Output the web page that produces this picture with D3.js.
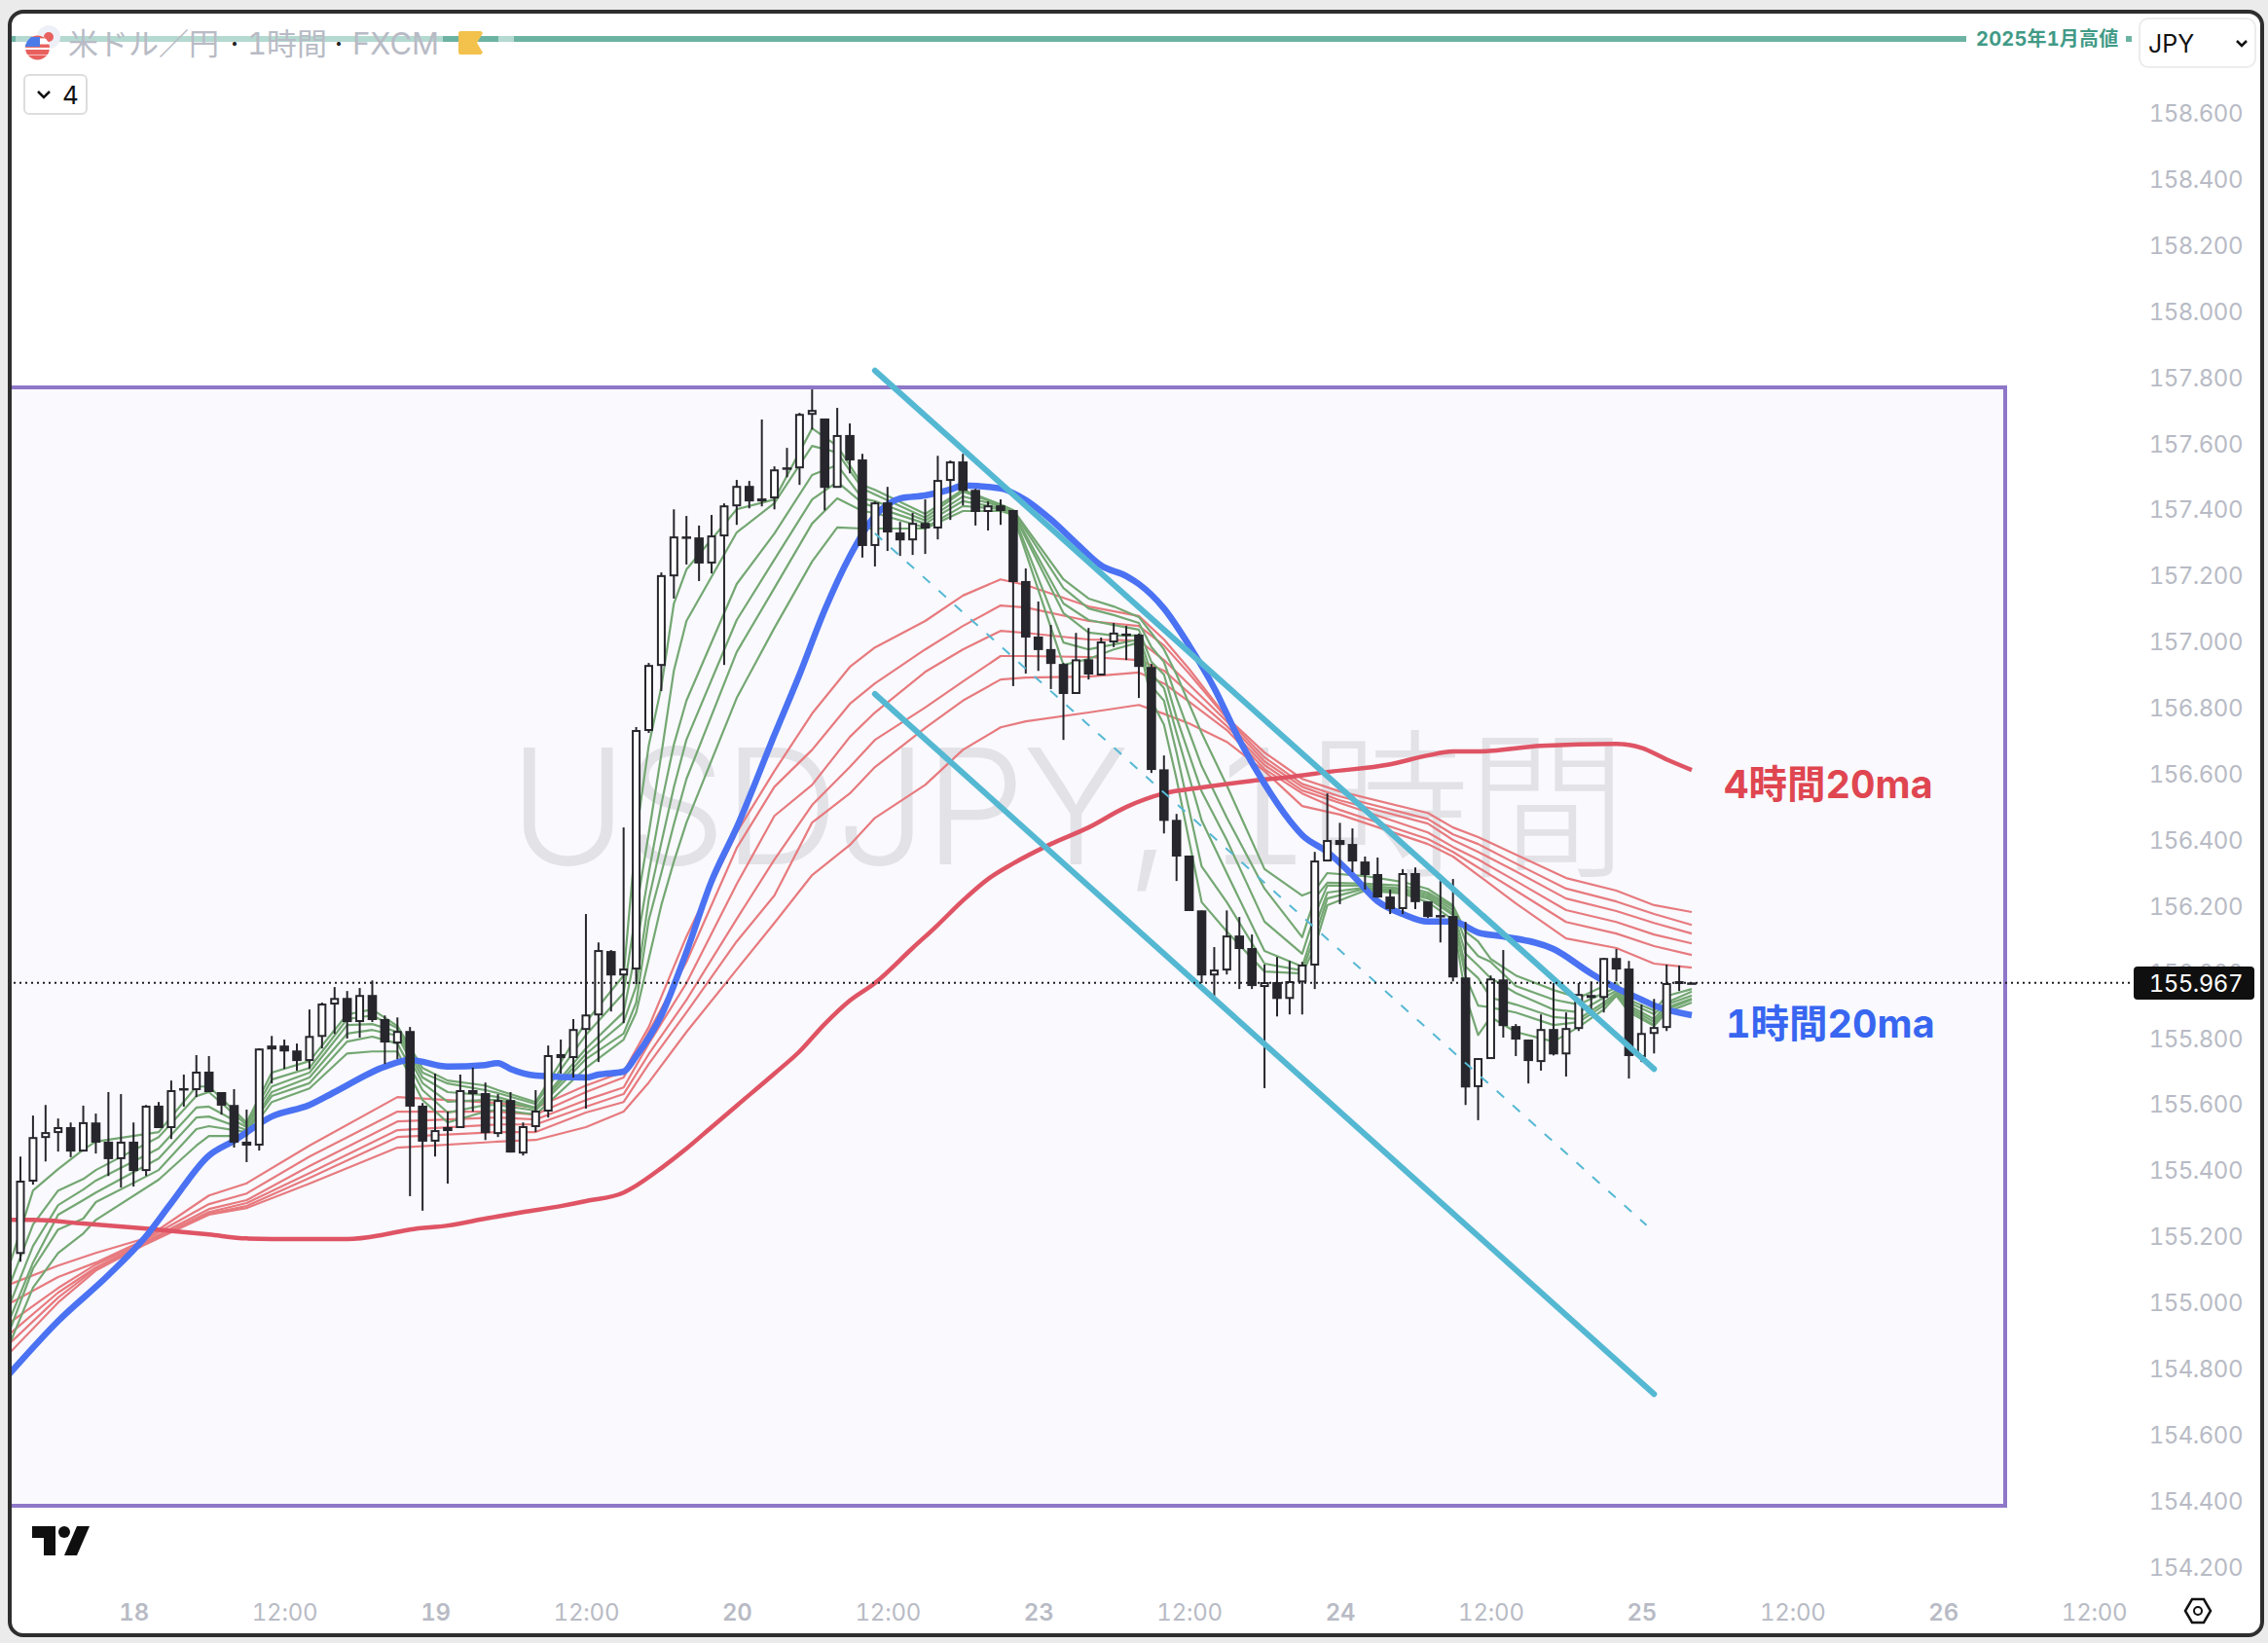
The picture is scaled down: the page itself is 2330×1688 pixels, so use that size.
<!DOCTYPE html>
<html><head><meta charset="utf-8">
<style>
html,body{margin:0;padding:0;background:#ebebeb}
svg{display:block}
text{font-family:Inter,"Noto Sans CJK JP",sans-serif;font-variant-numeric:tabular-nums}
</style>
<script src="https://cdn.jsdelivr.net/npm/d3@7/dist/d3.min.js"></script>
</head><body><svg id="c" width="2330" height="1688"></svg>
<script>
const opens=[155.149,155.368,155.500,155.515,155.530,155.459,155.544,155.486,155.436,155.486,
155.400,155.595,155.530,155.648,155.645,155.698,155.636,155.597,155.486,155.477,
155.777,155.777,155.762,155.733,155.806,155.904,155.921,155.851,155.930,155.857,
155.786,155.821,155.595,155.489,155.530,155.530,155.642,155.633,155.512,155.612,
155.453,155.533,155.580,155.742,155.742,155.827,155.871,156.063,155.992,156.010,
156.732,156.929,157.200,157.318,157.315,157.239,157.321,157.412,157.471,157.433,
157.436,157.527,157.527,157.689,157.675,157.468,157.625,157.551,157.292,157.421,
157.330,157.309,157.359,157.345,157.489,157.545,157.459,157.395,157.412,157.398,
157.183,157.015,156.977,156.932,156.844,156.946,156.900,157.000,157.024,157.021,
156.923,156.613,156.460,156.352,156.186,155.992,156.007,156.110,156.072,155.957,
155.969,155.921,155.971,156.022,156.337,156.399,156.387,156.334,156.296,156.228,
156.193,156.299,156.213,156.172,156.169,155.983,155.654,155.739,155.977,155.836,
155.795,155.730,155.827,155.753,155.830,155.930,155.924,156.042,156.010,155.745,
155.815,155.833,155.966,155.968];
const closes=[155.365,155.497,155.512,155.527,155.456,155.542,155.483,155.433,155.483,155.397,
155.592,155.527,155.639,155.642,155.695,155.636,155.595,155.483,155.474,155.765,
155.765,155.759,155.730,155.803,155.901,155.918,155.848,155.927,155.854,155.786,
155.818,155.592,155.486,155.518,155.518,155.639,155.630,155.512,155.609,155.453,
155.530,155.577,155.745,155.748,155.824,155.868,156.063,155.989,156.007,156.729,
156.926,157.198,157.315,157.315,157.236,157.318,157.409,157.468,157.424,157.424,
157.518,157.521,157.686,157.698,157.465,157.622,157.548,157.289,157.418,157.330,
157.306,157.356,157.342,157.486,157.542,157.456,157.392,157.409,157.395,157.180,
157.012,156.974,156.932,156.841,156.943,156.900,156.997,157.024,157.021,156.923,
156.611,156.457,156.349,156.184,155.989,156.004,156.107,156.069,155.957,155.966,
155.918,155.969,156.019,156.334,156.396,156.384,156.334,156.293,156.225,156.190,
156.296,156.211,156.166,156.166,155.983,155.650,155.736,155.977,155.836,155.795,
155.730,155.824,155.750,155.827,155.930,155.921,156.039,156.007,155.745,155.812,
155.830,155.963,155.969,155.967];
const highs=[155.441,155.565,155.597,155.556,155.544,155.595,155.571,155.636,155.630,155.544,
155.597,155.606,155.671,155.689,155.748,155.745,155.636,155.645,155.583,155.768,
155.806,155.795,155.783,155.886,155.907,155.954,155.942,155.951,155.974,155.868,
155.862,155.833,155.603,155.692,155.577,155.689,155.710,155.665,155.630,155.636,
155.544,155.642,155.777,155.795,155.857,156.175,156.089,156.066,156.437,156.741,
156.935,157.209,157.400,157.380,157.351,157.383,157.418,157.489,157.486,157.672,
157.530,157.586,157.692,157.763,157.675,157.707,157.660,157.568,157.424,157.468,
157.362,157.389,157.430,157.562,157.548,157.568,157.462,157.424,157.430,157.398,
157.221,157.121,157.050,156.935,157.026,157.041,157.012,157.056,157.047,157.024,
156.932,156.655,156.478,156.352,156.186,156.075,156.186,156.166,156.113,156.022,
156.045,156.033,156.030,156.363,156.540,156.451,156.434,156.349,156.346,156.249,
156.311,156.316,156.213,156.275,156.281,156.151,155.739,155.989,156.066,155.842,
155.795,155.871,155.966,155.877,155.966,155.971,156.042,156.069,156.033,155.901,
155.918,156.022,156.019,155.967];
const lows=[155.123,155.356,155.426,155.456,155.439,155.456,155.450,155.382,155.347,155.350,
155.382,155.527,155.494,155.592,155.621,155.636,155.568,155.468,155.424,155.459,
155.662,155.706,155.701,155.706,155.768,155.812,155.798,155.801,155.848,155.721,
155.736,155.321,155.277,155.441,155.359,155.530,155.577,155.491,155.500,155.453,
155.444,155.515,155.559,155.692,155.680,155.586,155.727,155.880,155.845,155.963,
156.723,156.850,157.130,157.233,157.183,157.206,156.929,157.353,157.403,157.409,
157.400,157.497,157.474,157.642,157.397,157.468,157.509,157.254,157.227,157.274,
157.259,157.262,157.265,157.309,157.368,157.412,157.351,157.336,157.353,156.865,
156.903,156.911,156.856,156.702,156.844,156.885,156.900,156.983,156.944,156.829,
156.602,156.419,156.275,156.184,155.966,155.927,155.992,155.948,155.948,155.648,
155.865,155.871,155.871,155.948,156.337,156.205,156.302,156.249,156.225,156.175,
156.175,156.190,156.163,156.089,155.971,155.597,155.551,155.739,155.801,155.745,
155.662,155.701,155.747,155.683,155.821,155.868,155.877,155.971,155.677,155.727,
155.753,155.821,155.942,155.967];

const redBars=[-1,3,6,10,15,18,23,30,38,41,45,48,50,53,57,60,63,66,68,72,75,78,80,85,89,91,93,96,99,102,105,112,114,116,119,123,127,130,133];
const redA=[155.052,155.111,155.149,155.194,155.323,155.360,155.474,155.621,155.603,155.589,155.656,155.697,155.833,156.107,156.422,156.608,156.782,156.923,156.982,157.062,157.139,157.188,157.171,157.106,157.077,157.006,156.917,156.770,156.664,156.584,156.546,156.481,156.437,156.408,156.355,156.284,156.246,156.202,156.181];
const redB=[154.993,155.076,155.120,155.191,155.297,155.329,155.441,155.577,155.577,155.568,155.636,155.680,155.818,156.030,156.375,156.560,156.672,156.811,156.873,156.976,157.047,157.109,157.103,157.062,157.047,156.988,156.903,156.767,156.649,156.569,156.531,156.463,156.416,156.387,156.328,156.252,156.213,156.175,156.142];
const redC=[154.934,155.043,155.114,155.185,155.282,155.309,155.412,155.547,155.559,155.553,155.612,155.650,155.783,155.966,156.266,156.472,156.566,156.711,156.785,156.908,156.976,157.032,157.026,157.006,157.003,156.944,156.870,156.758,156.637,156.560,156.519,156.449,156.399,156.363,156.304,156.222,156.184,156.148,156.116];
const redD=[154.899,155.029,155.105,155.182,155.273,155.300,155.391,155.521,155.538,155.538,155.592,155.630,155.751,155.915,156.160,156.340,156.505,156.620,156.702,156.800,156.879,156.956,156.956,156.953,156.944,156.912,156.844,156.744,156.626,156.549,156.511,156.422,156.378,156.340,156.275,156.187,156.151,156.113,156.086];
const redE=[154.870,155.014,155.102,155.179,155.268,155.291,155.376,155.500,155.515,155.515,155.574,155.606,155.721,155.877,156.092,156.231,156.452,156.540,156.620,156.738,156.821,156.885,156.891,156.894,156.906,156.873,156.818,156.732,156.614,156.540,156.490,156.402,156.363,156.316,156.246,156.151,156.116,156.078,156.051];
const redF=[154.841,154.999,155.096,155.176,155.265,155.285,155.359,155.468,155.486,155.491,155.530,155.577,155.665,155.818,156.007,156.148,156.293,156.384,156.466,156.566,156.672,156.740,156.758,156.785,156.808,156.781,156.752,156.696,156.608,156.502,156.476,156.387,156.349,156.293,156.207,156.101,156.072,156.025,156.013];

const greenBars=[-1,1,3,5,6,11,14,15,18,20,23,26,28,30,32,34,37,38,41,45,48,49,50,51,52,53,57,60,63,65,67,68,72,75,78,79,83,85,87,89,90,91,92,94,96,99,102,103,104,107,110,112,114,115,116,117,119,122,124,126,127,128,130,131,133];
const greenA=[155.096,155.338,155.403,155.462,155.486,155.515,155.653,155.653,155.544,155.695,155.730,155.871,155.886,155.836,155.709,155.671,155.656,155.642,155.606,155.848,155.989,156.416,156.685,156.862,157.115,157.218,157.400,157.430,157.645,157.592,157.474,157.459,157.386,157.459,157.415,157.398,157.188,157.130,157.106,157.074,157.026,156.976,156.900,156.723,156.564,156.311,156.231,156.246,156.299,156.290,156.272,156.251,156.201,156.122,156.092,156.039,155.989,155.945,155.921,155.957,155.966,155.915,155.883,155.927,155.948];
const greenB=[155.038,155.235,155.338,155.373,155.400,155.500,155.624,155.636,155.536,155.674,155.709,155.857,155.868,155.830,155.695,155.662,155.642,155.633,155.600,155.809,155.936,156.187,156.419,156.658,156.912,157.062,157.330,157.419,157.592,157.572,157.463,157.445,157.375,157.454,157.413,157.395,157.162,157.100,157.080,157.056,156.983,156.938,156.829,156.623,156.467,156.252,156.105,156.222,156.270,156.267,156.261,156.240,156.196,156.092,156.048,156.030,155.957,155.916,155.901,155.936,155.951,155.907,155.872,155.907,155.940];
const greenC=[154.979,155.170,155.294,155.341,155.368,155.465,155.589,155.592,155.530,155.653,155.695,155.839,155.842,155.818,155.680,155.636,155.627,155.621,155.589,155.768,155.878,156.069,156.299,156.507,156.688,156.821,157.174,157.327,157.504,157.534,157.433,157.425,157.366,157.439,157.410,157.392,157.115,157.065,157.050,157.036,156.938,156.900,156.770,156.546,156.399,156.152,156.055,156.172,156.261,156.261,156.252,156.234,156.187,156.055,156.019,155.981,155.936,155.886,155.878,155.922,155.943,155.898,155.857,155.901,155.928];
const greenD=[154.934,155.120,155.265,155.309,155.332,155.435,155.559,155.562,155.521,155.636,155.680,155.813,155.824,155.807,155.663,155.607,155.612,155.612,155.586,155.751,155.848,155.957,156.219,156.390,156.559,156.703,157.065,157.248,157.430,157.483,157.419,157.407,157.357,157.425,157.404,157.389,157.086,157.027,157.018,157.018,156.903,156.859,156.723,156.458,156.299,156.063,156.016,156.134,156.240,156.255,156.246,156.228,156.178,156.016,155.981,155.922,155.901,155.863,155.857,155.907,155.936,155.892,155.848,155.892,155.919];
const greenE=[154.899,155.102,155.220,155.253,155.303,155.400,155.524,155.533,155.515,155.624,155.663,155.789,155.804,155.783,155.642,155.574,155.597,155.597,155.580,155.736,155.813,155.907,156.157,156.299,156.447,156.584,156.968,157.162,157.357,157.433,157.395,157.389,157.345,157.410,157.401,157.386,156.997,156.976,156.991,157.006,156.865,156.821,156.664,156.319,156.211,156.025,156.004,156.105,156.222,156.252,156.240,156.222,156.172,155.986,155.898,155.892,155.877,155.839,155.848,155.898,155.930,155.886,155.839,155.886,155.916];
const greenF=[154.861,155.044,155.149,155.208,155.249,155.371,155.474,155.503,155.503,155.606,155.647,155.753,155.759,155.759,155.612,155.544,155.577,155.583,155.568,155.709,155.795,155.877,156.039,156.202,156.334,156.452,156.829,157.041,157.242,157.345,157.342,157.342,157.342,157.395,157.395,157.383,156.929,156.947,156.976,156.997,156.821,156.748,156.584,156.211,156.122,156.001,155.995,156.075,156.202,156.246,156.237,156.211,156.158,155.928,155.809,155.863,155.818,155.789,155.833,155.886,155.928,155.878,155.836,155.878,155.907];

const ma1hBars=[-1,3,7,10,12,15,17,20,23,25,29,31,34,37,38,39,41,45,46,48,49,51,53,55,57,60,62,64,66,68,70,72,74,75,78,80,82,84,86,88,89,91,93,95,97,99,101,102,104,106,108,110,112,114,116,118,122,125,127,129,130,133];
const ma1hValues=[154.778,154.943,155.082,155.200,155.300,155.444,155.489,155.562,155.597,155.636,155.713,155.733,155.713,155.718,155.724,155.706,155.686,155.680,155.689,155.698,155.745,155.868,156.060,156.275,156.437,156.717,156.900,157.095,157.258,157.380,157.433,157.442,157.460,157.472,157.463,157.428,157.369,157.298,157.230,157.198,157.174,157.100,156.988,156.859,156.702,156.569,156.458,156.414,156.363,156.293,156.214,156.175,156.152,156.152,156.119,156.107,156.069,155.995,155.951,155.916,155.898,155.869];
const ma4hBars=[-1,1,5,10,15,18,22,26,29,31,34,37,40,43,45,48,49,51,53,55,57,60,62,64,66,68,71,73,75,77,79,82,85,88,91,94,98,101,104,109,112,114,116,121,127,129,131,133];
const ma4hValues=[155.249,155.249,155.238,155.223,155.205,155.193,155.191,155.191,155.205,155.220,155.232,155.253,155.273,155.291,155.306,155.332,155.353,155.406,155.465,155.530,155.595,155.692,155.759,155.842,155.913,155.966,156.072,156.142,156.216,156.281,156.328,156.387,156.437,156.499,156.540,156.558,156.578,156.590,156.605,156.628,156.655,156.667,156.667,156.684,156.690,156.678,156.643,156.611];

const channelUpper=[[68,157.820],[130,155.706]];
const channelLower=[[68,156.841],[130,154.722]];
const channelMid=[[68,157.327],[129.4,155.233]];

const priceTicks=[158.6,158.4,158.2,158.0,157.8,157.6,157.4,157.2,157.0,156.8,156.6,156.4,156.2,156.0,155.8,155.6,155.4,155.2,155.0,154.8,154.6,154.4,154.2];
const timeTickBars=[9,21,33,45,57,69,81,93,105,117,129,141,153,165];
const timeTickLabels=["18","12:00","19","12:00","20","12:00","23","12:00","24","12:00","25","12:00","26","12:00"];
const lastPrice=155.967;

const svg=d3.select("#c");
const x=d3.scaleLinear().domain([0,133]).range([21,1738]);
const y=d3.scaleLinear().domain([158.6,154.2]).range([116,1609.4]);
const INK="#26262c",MUTED="#b8bbc5",PLOT="#f9f9fe";

svg.append("rect").attr("x",10).attr("y",12).attr("width",2314).attr("height",1668).attr("rx",14)
  .attr("fill","#fff").attr("stroke","#2e2e2e").attr("stroke-width",4);
const defs=svg.append("defs");
defs.append("clipPath").attr("id","plot").append("rect").attr("x",12).attr("y",14).attr("width",2048).attr("height",1660);

svg.append("rect").attr("x",12).attr("y",398).attr("width",2048).attr("height",1149).attr("fill",PLOT);
svg.append("text").attr("x",1096).attr("y",888).attr("text-anchor","middle")
  .attr("font-size",165).attr("font-weight",300).attr("letter-spacing",-2.8).attr("fill","#e2e2e7").text("USDJPY, 1時間");
svg.append("path").attr("d","M12 398H2060V1547H12").attr("fill","none").attr("stroke","#8e77c8").attr("stroke-width",4);

const g=svg.append("g").attr("clip-path","url(#plot)");
function drawLine(bars,vals,color,w,curve){
  const pts=bars.map((b,i)=>[b,vals[i]]);
  g.append("path").datum(pts).attr("fill","none").attr("stroke",color).attr("stroke-width",w)
   .attr("stroke-linejoin","round").attr("d",d3.line().curve(curve||d3.curveLinear).x(d=>x(d[0])).y(d=>y(d[1])));
}
[redA,redB,redC,redD,redE,redF].forEach(v=>drawLine(redBars,v,"#e77a7e",2.2));
[greenA,greenB,greenC,greenD,greenE,greenF].forEach(v=>drawLine(greenBars,v,"#74a772",2.2));
drawLine(ma4hBars,ma4hValues,"#df5464",4.5,d3.curveMonotoneX);
drawLine(ma1hBars,ma1hValues,"#4a72f2",6.5,d3.curveMonotoneX);

const candles=opens.map((o,i)=>({i,o,h:highs[i],l:lows[i],c:closes[i]}));
const cg=g.selectAll("g.c").data(candles).join("g");
cg.append("line").attr("x1",d=>x(d.i)).attr("x2",d=>x(d.i)).attr("y1",d=>y(d.h)).attr("y2",d=>y(d.l))
  .attr("stroke",INK).attr("stroke-width",2);
cg.append("rect").attr("x",d=>x(d.i)-(d.c>=d.o?3.5:4.8)).attr("width",d=>d.c>=d.o?7:9.6)
  .attr("y",d=>y(Math.max(d.o,d.c))).attr("height",d=>Math.max(d.c>=d.o?1:2.5,Math.abs(y(d.o)-y(d.c))))
  .attr("fill",d=>d.c>=d.o?"#fff":INK).attr("stroke",d=>d.c>=d.o?INK:"none").attr("stroke-width",2);

function trend(pts,w,dash){
  const p=svg.append("path").datum(pts).attr("fill","none").attr("stroke","#55b8d2").attr("stroke-width",w)
   .attr("stroke-linecap","round").attr("d",d3.line().x(d=>x(d[0])).y(d=>y(d[1])));
  if(dash)p.attr("stroke-dasharray",dash).attr("stroke-linecap","butt");
}
trend(channelUpper,6);trend(channelLower,6);trend(channelMid,2,"10 12");

svg.append("line").attr("x1",14).attr("x2",2192).attr("y1",y(lastPrice)).attr("y2",y(lastPrice))
  .attr("stroke","#1c1c20").attr("stroke-width",2).attr("stroke-dasharray","2 4");

const ya=svg.append("g").attr("transform","translate(2304,1)")
  .call(d3.axisLeft(y).tickValues(priceTicks).tickFormat(d3.format(".3f")).tickSize(0).tickPadding(0));
ya.select(".domain").remove();
ya.selectAll("text").attr("font-size",24).attr("letter-spacing",-0.5).attr("fill",MUTED).style("font-family",'Inter,"Noto Sans CJK JP",sans-serif');

const xa=svg.append("g").attr("transform","translate(0,1648)")
  .call(d3.axisBottom(x).tickValues(timeTickBars).tickFormat((d,i)=>timeTickLabels[i]).tickSize(0).tickPadding(0));
xa.select(".domain").remove();
xa.selectAll("text").attr("font-size",24).attr("letter-spacing",-0.2).attr("fill",MUTED).style("font-family",'Inter,"Noto Sans CJK JP",sans-serif')
  .attr("font-weight",(d,i)=>timeTickLabels[i].includes(":")?400:600);

svg.append("rect").attr("x",2192).attr("y",993).attr("width",124).attr("height",34).attr("rx",4).attr("fill","#0f0f0f");
svg.append("text").attr("x",2304).attr("y",1010).attr("dy","0.36em").attr("text-anchor","end").attr("font-size",24).attr("letter-spacing",-0.5).attr("fill","#fff").text(d3.format(".3f")(lastPrice));

svg.append("text").attr("x",1771).attr("y",806).attr("dy","0.36em").attr("font-size",39.5).attr("font-weight",700).attr("fill","#df4650").text("4時間20ma");
svg.append("text").attr("x",1773).attr("y",1052).attr("dy","0.36em").attr("font-size",39.5).attr("font-weight",700).attr("fill","#3866f0").text("1時間20ma");

// header band
svg.append("rect").attr("x",12).attr("y",37).attr("width",2008).attr("height",6).attr("fill","#6db3a3");
svg.append("rect").attr("x",16).attr("y",37).attr("width",439).attr("height",6).attr("fill","#b4d9d0");
svg.append("rect").attr("x",512).attr("y",37).attr("width",16).attr("height",6).attr("fill","#b4d9d0");
svg.append("text").attr("x",2030).attr("y",40).attr("dy","0.36em").attr("font-size",20).attr("font-weight",700).attr("letter-spacing",0.2).attr("fill","#419a86").text("2025年1月高値");
svg.append("rect").attr("x",2184).attr("y",37).attr("width",6).attr("height",6).attr("fill","#6db3a3");

// flags
svg.append("circle").attr("cx",50).attr("cy",38).attr("r",12).attr("fill","#eef0f7");
svg.append("circle").attr("cx",50).attr("cy",38).attr("r",5).attr("fill","#e8605e");
defs.append("clipPath").attr("id","us").append("circle").attr("cx",38.5).attr("cy",49).attr("r",12.5);
const us=svg.append("g").attr("clip-path","url(#us)");
us.append("rect").attr("x",26).attr("y",36).attr("width",26).attr("height",26).attr("fill","#fff");
[36,45.5,51,57].forEach(t=>us.append("rect").attr("x",26).attr("y",t).attr("width",26).attr("height",3.4+(t>50?2:0)).attr("fill","#e8605e"));
us.append("rect").attr("x",26).attr("y",38).attr("width",15).attr("height",10).attr("fill","#4a7be8");

const titleBits=[[70,"米ドル／円",MUTED],[241,"·","#222"],[254,"1時間",MUTED],[348,"·","#222"],[362,"FXCM",MUTED]];
titleBits.forEach(t=>svg.append("text").attr("x",t[0]).attr("y",45).attr("dy","0.36em").attr("font-size",31).attr("fill",t[2]).attr("text-anchor",t[1]==="·"?"middle":"start").text(t[1]));
svg.append("path").attr("d","M473 32H494L496 34L490 44L496 54L494 56H473Q471 56 471 54V34Q471 32 473 32Z").attr("fill","#f2c24c");

// dropdowns
svg.append("rect").attr("x",25).attr("y",77).attr("width",64).attr("height",40).attr("rx",5).attr("fill","#fff").attr("stroke","#dddddd").attr("stroke-width",2);
svg.append("path").attr("d","M39 94L45 100L51 94").attr("fill","none").attr("stroke","#111").attr("stroke-width",2.5);
svg.append("text").attr("x",64).attr("y",98).attr("dy","0.36em").attr("font-size",26).attr("fill","#111").text("4");
svg.append("rect").attr("x",2198).attr("y",19).attr("width",119).attr("height",50).attr("rx",9).attr("fill","#fff").attr("stroke","#ececec").attr("stroke-width",2);
svg.append("text").attr("x",2207).attr("y",45).attr("dy","0.36em").attr("font-size",25).attr("fill","#111").text("JPY");
svg.append("path").attr("d","M2298 42L2303 47L2308 42").attr("fill","none").attr("stroke","#111").attr("stroke-width",2.5);

// TradingView mark and settings icon
svg.append("path").attr("d","M33 1568H57V1598H45V1580H33ZM92 1568L79 1598H66L79 1568Z").attr("fill","#0f0f0f");
svg.append("circle").attr("cx",66).attr("cy",1574).attr("r",6).attr("fill","#0f0f0f");
svg.append("path").attr("d","M2252 1643H2264L2271 1655L2264 1667H2252L2245 1655Z").attr("fill","none").attr("stroke","#111").attr("stroke-width",2.5);
svg.append("circle").attr("cx",2258).attr("cy",1655).attr("r",4).attr("fill","none").attr("stroke","#111").attr("stroke-width",2);
</script></body></html>
